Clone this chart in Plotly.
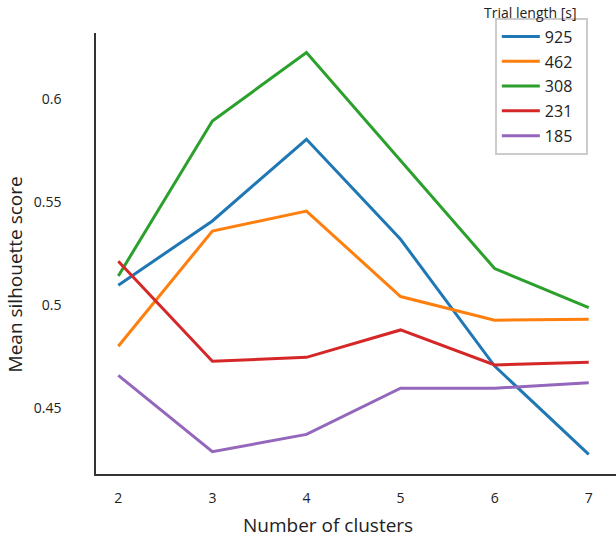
import plotly.graph_objects as go

clusters = [2, 3, 4, 5, 6, 7]
trial_lengths = ["925", "462", "308", "231", "185"]
score_925 = [0.5096, 0.5408, 0.5804, 0.5319, 0.4704, 0.4275]
score_462 = [0.4800, 0.5359, 0.5456, 0.5041, 0.4926, 0.4931]
score_308 = [0.5141, 0.5893, 0.6225, 0.5700, 0.5177, 0.4987]
score_231 = [0.5212, 0.4727, 0.4746, 0.4879, 0.4709, 0.4722]
score_185 = [0.4659, 0.4288, 0.4372, 0.4596, 0.4596, 0.4623]
series = [score_925, score_462, score_308, score_231, score_185]
colors = ["#1f77b4", "#ff7f0e", "#2ca02c", "#d62728", "#9467bd"]
y_ticks = [0.45, 0.5, 0.55, 0.6]
y_tick_text = ["0.45", "0.5", "0.55", "0.6"]

FONT = "Open Sans"
TXT = "#222"

fig = go.Figure()
for name, vals, c in zip(trial_lengths, series, colors):
    fig.add_trace(go.Scatter(
        x=clusters, y=vals, mode="lines", name=name + "\u00a0\u00a0",
        legendgroup=name,
        line=dict(color=c, width=3),
    ))

fig.update_layout(
    width=616, height=538,
    margin=dict(l=96, r=0, t=33, b=64),
    plot_bgcolor="white", paper_bgcolor="white",
    font=dict(family=FONT, color=TXT),
    showlegend=True,
    legend=dict(
        x=0.767, y=1.035, xanchor="left", yanchor="top",
        bordercolor="#cccccc", borderwidth=2,
        font=dict(family=FONT, size=16, color=TXT),
        tracegroupgap=1,
        itemwidth=38,
        bgcolor="white",
    ),
    annotations=[
        dict(text="Trial length [s]", xref="paper", yref="paper",
             x=0.835, y=1.0476, xanchor="center", yanchor="middle",
             showarrow=False, font=dict(family=FONT, size=14, color=TXT)),
        dict(text="Number of clusters", xref="paper", yref="paper",
             x=0.446, y=-0.116, xanchor="center", yanchor="middle",
             showarrow=False, font=dict(family=FONT, size=19, color=TXT)),
        dict(text="Mean silhouette score", xref="paper", yref="paper",
             x=-0.155, y=0.4535, xanchor="center", yanchor="middle",
             textangle=-90,
             showarrow=False, font=dict(family=FONT, size=19, color=TXT)),
    ],
)

fig.update_xaxes(
    range=[1.763, 7.29], tickvals=clusters,
    showline=True, linecolor="#333", linewidth=1.5,
    showgrid=False, zeroline=False, ticks="",
    tickfont=dict(size=14, family=FONT, color=TXT),
    ticklabelstandoff=10,
)
fig.update_yaxes(
    range=[0.418, 0.632], tickvals=y_ticks, ticktext=y_tick_text,
    showline=True, linecolor="#333", linewidth=1.5,
    showgrid=False, zeroline=False, ticks="",
    tickfont=dict(size=14, family=FONT, color=TXT),
    ticklabelstandoff=30,
)

fig.write_html(
    "out.html",
    config={"displayModeBar": False},
    post_script="document.body.style.margin='0';document.body.style.overflow='hidden';",
)
